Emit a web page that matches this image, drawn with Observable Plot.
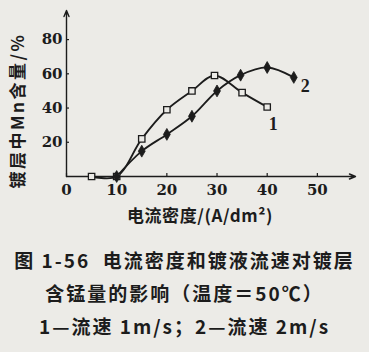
<!DOCTYPE html>
<html><head><meta charset="utf-8">
<script src="https://cdn.jsdelivr.net/npm/d3@7"></script>
<script src="https://cdn.jsdelivr.net/npm/@observablehq/plot@0.6"></script>
<style>
html,body{margin:0;padding:0;background:#ecebe7;}
body{width:369px;height:352px;overflow:hidden;}
#cap{font-family:"Noto Sans CJK SC";font-weight:700;font-size:19px;line-height:33px;text-align:center;color:#1c1c1c;padding-top:13px;letter-spacing:2px;white-space:pre;}
.ylab text{letter-spacing:2.5px;}
.xlab text{letter-spacing:0.6px;}
</style></head><body>
<div id="chart"></div>
<div id="cap"></div>
<script>
// Series 1: flow 1 m/s (open squares)
const xS1 = [5, 10, 15, 20, 25, 29.5, 35, 40];
const yS1 = [0, 0, 22, 39, 50, 59, 49, 40.6];
// Series 2: flow 2 m/s (filled diamonds)
const xS2 = [10, 15, 20, 25, 30, 34.7, 40, 45.3];
const yS2 = [0, 14.8, 24.6, 35.2, 50, 59.2, 63.7, 57.9];
const xTicks = [0, 10, 20, 30, 40, 50];
const yTicks = [20, 40, 60, 80];
const xDomain = [0, 57.6];
const yDomain = [0, 97];
const seriesLabels = ["1", "2"];
const labelX = [41.2, 47.6];
const labelY = [30.6, 53];
const xLabel = "电流密度/(A/dm²)";
const yLabel = "镀层中Mn含量/%";
const captionLines = ["图 1-56  电流密度和镀液流速对镀层", "含锰量的影响（温度＝50℃）", "1—流速 1m/s；2—流速 2m/s"];

const ink = "#1c1c1c", bg = "#ecebe7";
const axisLines = [
  {x1: xDomain[0], y1: yDomain[0], x2: xDomain[1], y2: yDomain[0]},
  {x1: xDomain[0], y1: yDomain[0], x2: xDomain[0], y2: yDomain[1]}
];

const plot = Plot.plot({
  width: 369, height: 230,
  marginLeft: 66, marginRight: 14, marginTop: 10, marginBottom: 54,
  style: {background: bg, color: ink, fontFamily: "DejaVu Serif", fontSize: "15px", fontWeight: "bold"},
  x: {domain: xDomain},
  y: {domain: yDomain},
  marks: [
    Plot.axisX({ticks: xTicks, tickSize: -3, tickPadding: 11, label: null, stroke: ink, strokeWidth: 1.2, fill: ink, fontSize: 15}),
    Plot.axisY({ticks: yTicks, tickSize: -3, tickPadding: 7, label: null, stroke: ink, strokeWidth: 1.2, fill: ink, fontSize: 15}),
    Plot.arrow(axisLines, {x1: "x1", y1: "y1", x2: "x2", y2: "y2", stroke: ink, strokeWidth: 1.4, headLength: 7, headAngle: 45}),
    Plot.line(xS1, {x: xS1, y: yS1, curve: "catmull-rom", stroke: ink, strokeWidth: 1.8}),
    Plot.line(xS2, {x: xS2, y: yS2, curve: "catmull-rom", stroke: ink, strokeWidth: 1.8}),
    Plot.dot(xS1, {x: xS1, y: yS1, symbol: "square", r: 3.6, fill: bg, stroke: ink, strokeWidth: 1.3}),
    Plot.dot(xS2, {x: xS2, y: yS2, symbol: "diamond", r: 3.6, fill: ink, stroke: ink, strokeWidth: 0.8}),
    Plot.text(seriesLabels, {x: labelX, y: labelY, text: d => d, fontSize: 18, fontFamily: "Liberation Serif", fill: ink}),
    Plot.text([xLabel], {frameAnchor: "bottom", dy: 45, dx: -11, text: d => d, fontSize: 17, fontFamily: "Noto Sans CJK SC", fontWeight: "bold", fill: ink, className: "xlab"}),
    Plot.text([yLabel], {frameAnchor: "left", textAnchor: "middle", rotate: -90, dx: -48, dy: 17, text: d => d, fontSize: 17, fontFamily: "Noto Sans CJK SC", fontWeight: "bold", fill: ink, className: "ylab"})
  ]
});
document.getElementById("chart").appendChild(plot);
const cap = document.getElementById("cap");
captionLines.forEach(t => { const d = document.createElement("div"); d.textContent = t; cap.appendChild(d); });
</script>
</body></html>
